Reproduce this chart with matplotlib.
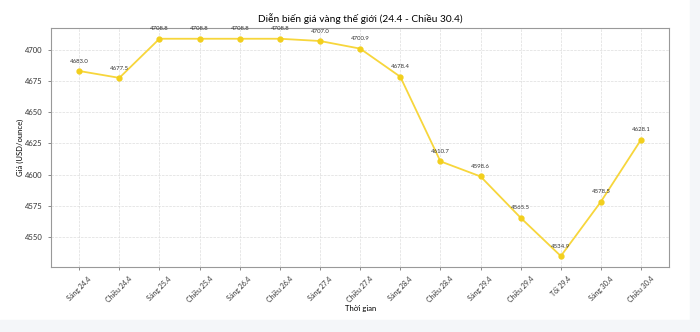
import matplotlib.pyplot as plt
from matplotlib.patches import Rectangle

plt.rcParams['font.family'] = ['Lato', 'DejaVu Sans']

times = ['Sáng 24.4', 'Chiều 24.4', 'Sáng 25.4', 'Chiều 25.4', 'Sáng 26.4',
         'Chiều 26.4', 'Sáng 27.4', 'Chiều 27.4', 'Sáng 28.4', 'Chiều 28.4',
         'Sáng 29.4', 'Chiều 29.4', 'Tối 29.4', 'Sáng 30.4', 'Chiều 30.4']
prices = [4683.0, 4677.5, 4708.8, 4708.8, 4708.8, 4708.8, 4707.0, 4700.9,
          4678.4, 4610.7, 4598.6, 4565.5, 4534.9, 4578.5, 4628.1]
y_ticks = [4550, 4575, 4600, 4625, 4650, 4675, 4700]

fig = plt.figure(figsize=(7, 3.32), dpi=100)
ax = fig.add_axes([0.073, 0.196, 0.883, 0.72])

# light strips at the edges of the screenshot
fig.patches.append(Rectangle((0.985, 0), 0.015, 1, transform=fig.transFigure,
                             color='#f4f6f9', zorder=-1))
fig.patches.append(Rectangle((0, 0), 1, 0.036, transform=fig.transFigure,
                             color='#f4f6f9', zorder=-1))

x = list(range(len(times)))
ax.plot(x, prices, color='#f7d63c', linewidth=1.3, marker='o', markersize=3.5,
        markerfacecolor='#f2cf1d', markeredgecolor='#f2cf1d')

for xi, p in zip(x, prices):
    ax.annotate(f'{p:.1f}', (xi, p), textcoords='offset points', xytext=(0, 6),
                ha='center', fontsize=4.3, color='#333333')

ax.set_xticks(x)
ax.set_xticklabels(times, rotation=45, fontsize=5, color='#333333')
ax.set_yticks(y_ticks)
ax.tick_params(axis='y', labelsize=5.5, colors='#333333')
ax.tick_params(length=2.5, width=0.6, color='#777777')
ax.grid(True, linestyle='--', linewidth=0.5, color='#dddddd')

for s in ax.spines.values():
    s.set_color('#999999')
    s.set_linewidth(0.8)

ax.set_title('Diễn biến giá vàng thế giới (24.4 - Chiều 30.4)', fontsize=7.3, pad=4)
ax.set_ylabel('Giá (USD/ounce)', fontsize=5.5, labelpad=1)
ax.set_xlabel('Thời gian', fontsize=5.5, labelpad=1)

fig.savefig('out.png', dpi=100)
